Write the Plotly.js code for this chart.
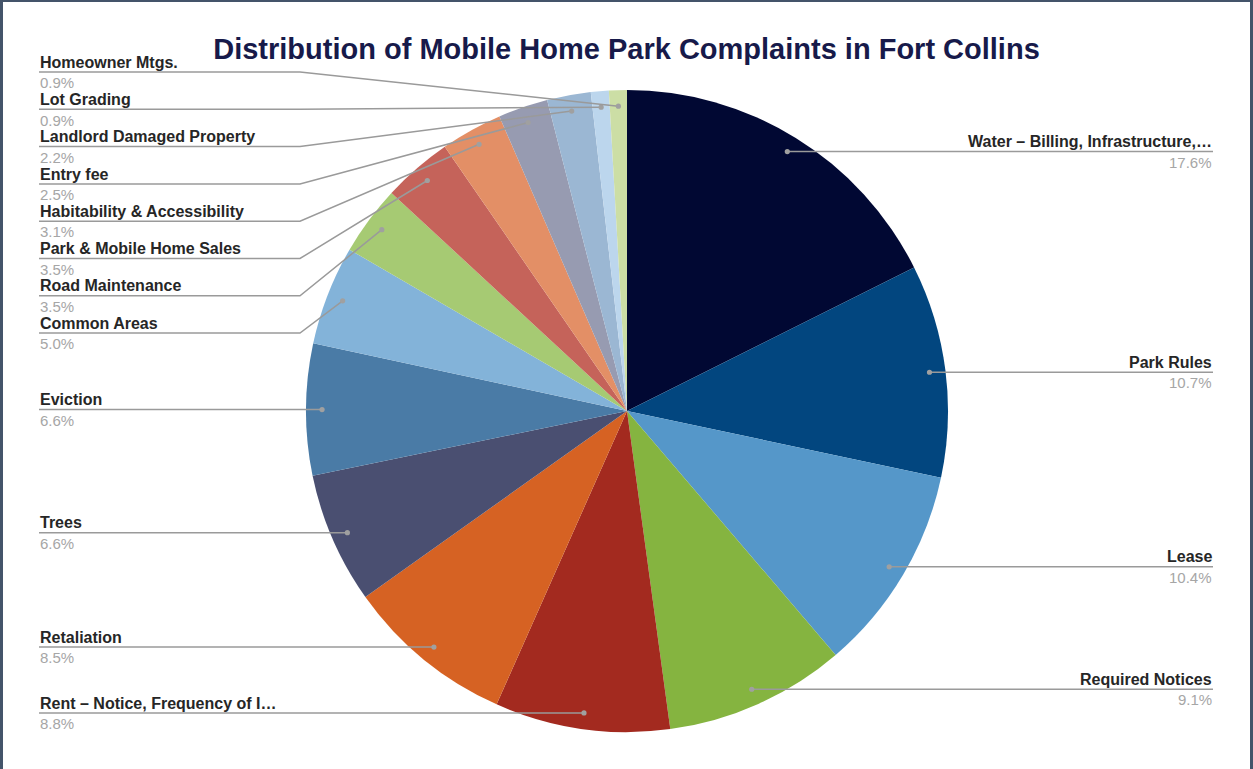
<!DOCTYPE html>
<html>
<head>
<meta charset="utf-8">
<script src="https://cdn.plot.ly/plotly-3.0.1.min.js"></script>
<style>html,body{margin:0;padding:0;background:#fff;}#chart{width:1253px;height:769px;}</style>
</head>
<body>
<div id="chart"></div>
<script>
// ---- data ----
const categories = [
  "Water – Billing, Infrastructure,…",
  "Park Rules",
  "Lease",
  "Required Notices",
  "Rent – Notice, Frequency of I…",
  "Retaliation",
  "Trees",
  "Eviction",
  "Common Areas",
  "Road Maintenance",
  "Park & Mobile Home Sales",
  "Habitability & Accessibility",
  "Entry fee",
  "Landlord Damaged Property",
  "Lot Grading",
  "Homeowner Mtgs."
];
const shares = [17.6, 10.7, 10.4, 9.1, 8.8, 8.5, 6.6, 6.6, 5.0, 3.5, 3.5, 3.1, 2.5, 2.2, 0.9, 0.9];
const sliceColors = [
  "#010833", "#02467f", "#5597c9", "#85b440", "#a32a1f", "#d66223", "#4a4f71", "#4a7ba6",
  "#83b3d9", "#a6ca73", "#c5635a", "#e38f66", "#979bb1", "#9bb7d3", "#bcd6ed", "#ccdea5"
];
const chartTitle = "Distribution of Mobile Home Park Complaints in Fort Collins";

// ---- layout constants (pixels) ----
const W = 1253, H = 769;
const CX = 627, CY = 411, R = 321;
const DOT_R = 0.95 * R;
const LEFT_X = 39, RIGHT_X = 1213;
const BEND_LEFT = 300, BEND_RIGHT = W - 300;
const SPACING = 37.3, MIN_Y = 72, MAX_Y = 730;
const LINE_COLOR = "#9a9a9a";

const px = x => x / W;
const py = y => 1 - y / H;

// angles of slice midpoints (clockwise from 12 o'clock)
const total = shares.reduce((a, b) => a + b, 0);
let cum = 0;
const items = shares.map((v, i) => {
  const mid = (cum + v / 2) / total * 2 * Math.PI;
  cum += v;
  return {
    i: i,
    theta: mid,
    dotX: CX + DOT_R * Math.sin(mid),
    dotY: CY - DOT_R * Math.cos(mid),
    left: mid > Math.PI
  };
});

function layoutSide(list) {
  list.sort((a, b) => a.dotY - b.dotY);
  let blocks = list.map(it => ({ items: [it] }));
  function place(b) {
    const n = b.items.length;
    const mean = b.items.reduce((s, it) => s + it.dotY, 0) / n;
    let start = mean - (n - 1) * SPACING / 2;
    start = Math.max(MIN_Y, Math.min(start, MAX_Y - (n - 1) * SPACING));
    b.start = start;
    b.end = start + (n - 1) * SPACING;
  }
  blocks.forEach(place);
  let changed = true;
  while (changed) {
    changed = false;
    for (let k = 0; k < blocks.length - 1; k++) {
      if (blocks[k + 1].start < blocks[k].end + SPACING - 0.01) {
        const merged = { items: blocks[k].items.concat(blocks[k + 1].items) };
        place(merged);
        blocks.splice(k, 2, merged);
        changed = true;
        break;
      }
    }
  }
  blocks.forEach(b => b.items.forEach((it, j) => { it.labelY = b.start + j * SPACING; }));
}
layoutSide(items.filter(it => it.left));
layoutSide(items.filter(it => !it.left));

const shapes = [];
const annotations = [];
items.forEach(it => {
  const lx = it.left ? LEFT_X : RIGHT_X;
  const bx = it.left ? BEND_LEFT : BEND_RIGHT;
  let path;
  if (Math.abs(it.labelY - it.dotY) < 0.5) {
    path = `M ${px(lx)} ${py(it.labelY)} L ${px(it.dotX)} ${py(it.dotY)}`;
  } else {
    path = `M ${px(lx)} ${py(it.labelY)} L ${px(bx)} ${py(it.labelY)} L ${px(it.dotX)} ${py(it.dotY)}`;
  }
  shapes.push({ type: "path", xref: "paper", yref: "paper", path: path,
    line: { color: LINE_COLOR, width: 1.5 } });
  shapes.push({ type: "circle", xref: "paper", yref: "paper",
    x0: px(it.dotX - 2.6), x1: px(it.dotX + 2.6), y0: py(it.dotY + 2.6), y1: py(it.dotY - 2.6),
    fillcolor: "#a0a0a0", line: { width: 0 } });
  annotations.push({
    xref: "paper", yref: "paper", x: px(lx), y: py(it.labelY - 0.3),
    xanchor: it.left ? "left" : "right", yanchor: "bottom", showarrow: false,
    borderpad: 0, align: it.left ? "left" : "right",
    text: "<b>" + categories[it.i].replace(/&/g, "&amp;") + "</b>",
    font: { family: "Liberation Sans, Arial, sans-serif", size: 16, color: "#262626" }
  });
  annotations.push({
    xref: "paper", yref: "paper", x: px(lx), y: py(it.labelY + 1.2),
    xanchor: it.left ? "left" : "right", yanchor: "top", showarrow: false,
    borderpad: 0, align: it.left ? "left" : "right",
    text: shares[it.i].toFixed(1) + "%",
    font: { family: "Liberation Sans, Arial, sans-serif", size: 15, color: "#a6a6a6" }
  });
});

// frame
const FRAME = "#44546a";
shapes.push({ type: "line", xref: "paper", yref: "paper", x0: px(1.5), x1: px(1.5), y0: 0, y1: 1, line: { color: FRAME, width: 3 } });
shapes.push({ type: "line", xref: "paper", yref: "paper", x0: 0, x1: 1, y0: py(1), y1: py(1), line: { color: FRAME, width: 2 } });
shapes.push({ type: "line", xref: "paper", yref: "paper", x0: px(W - 1.5), x1: px(W - 1.5), y0: 0, y1: 1, line: { color: FRAME, width: 3 } });

const trace = {
  type: "pie",
  labels: categories,
  values: shares,
  sort: false,
  direction: "clockwise",
  rotation: 0,
  textinfo: "none",
  hoverinfo: "label+percent",
  marker: { colors: sliceColors, line: { width: 0 } },
  domain: { x: [(CX - R) / W, (CX + R) / W], y: [(H - CY - R) / H, (H - CY + R) / H] },
  showlegend: false
};

const layout = {
  width: W, height: H,
  margin: { l: 0, r: 0, t: 0, b: 0 },
  paper_bgcolor: "#ffffff",
  showlegend: false,
  title: {
    text: "<b>" + chartTitle + "</b>",
    x: 0.5, xref: "container", xanchor: "center",
    y: 1 - 49 / H, yref: "container", yanchor: "middle",
    font: { family: "Liberation Sans, Arial, sans-serif", size: 29, color: "#171a4a" }
  },
  shapes: shapes,
  annotations: annotations
};

Plotly.newPlot("chart", [trace], layout, { displayModeBar: false, staticPlot: true });
</script>
</body>
</html>
